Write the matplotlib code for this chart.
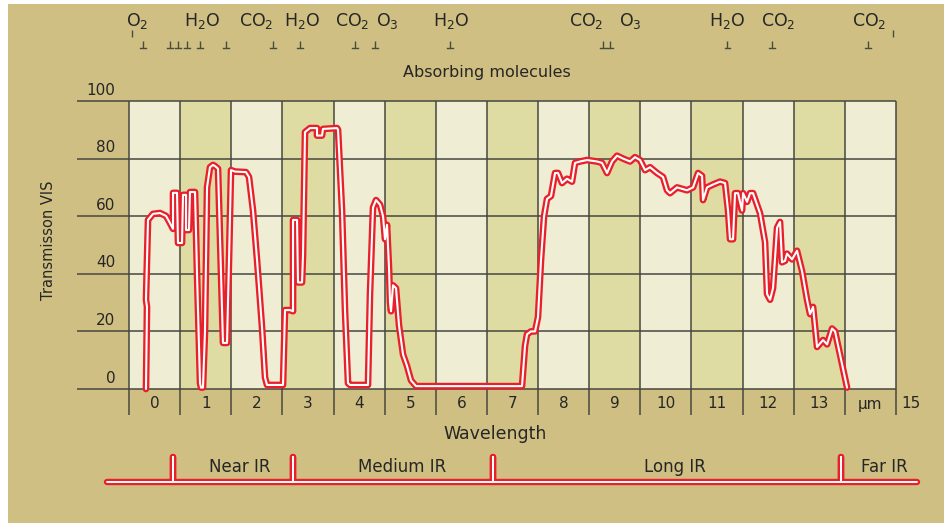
import matplotlib
matplotlib.use("Agg")
import matplotlib.pyplot as plt
from matplotlib.patches import Rectangle
from matplotlib.transforms import blended_transform_factory

# ---------------- data ----------------
wavelength = [0.332, 0.352, 0.332, 0.372, 0.469, 0.606, 0.724, 0.802, 0.861, 0.861,
              0.939, 0.958, 1.037, 1.056, 1.115, 1.115, 1.173, 1.193, 1.291, 1.330,
              1.389, 1.408, 1.447, 1.486, 1.526, 1.584, 1.643, 1.682, 1.741, 1.799,
              1.838, 1.917, 1.956, 1.995, 2.073, 2.288, 2.347, 2.425, 2.503, 2.601,
              2.660, 2.699, 3.012, 3.051, 3.149, 3.208, 3.208, 3.286, 3.305, 3.384,
              3.403, 3.442, 3.540, 3.677, 3.677, 3.775, 3.794, 4.068, 4.088, 4.166,
              4.225, 4.283, 4.322, 4.674, 4.713, 4.772, 4.831, 4.909, 4.968, 5.007,
              5.046, 5.085, 5.105, 5.124, 5.163, 5.222, 5.281, 5.359, 5.437, 5.515,
              5.613, 7.686, 7.745, 7.784, 7.862, 7.941, 7.999, 8.058, 8.117, 8.175,
              8.253, 8.332, 8.390, 8.469, 8.566, 8.664, 8.723, 8.821, 8.958, 9.153,
              9.251, 9.349, 9.447, 9.544, 9.662, 9.799, 9.896, 9.994, 10.092, 10.190,
              10.327, 10.444, 10.522, 10.581, 10.718, 10.913, 11.031, 11.129, 11.207, 11.226,
              11.305, 11.422, 11.559, 11.657, 11.715, 11.754, 11.813, 11.852, 11.911, 11.989,
              12.009, 12.087, 12.146, 12.204, 12.341, 12.439, 12.478, 12.537, 12.595, 12.674,
              12.732, 12.771, 12.830, 12.869, 12.967, 13.064, 13.162, 13.260, 13.319, 13.378,
              13.456, 13.573, 13.652, 13.749, 13.808, 14.043]
transmission = [0, 28.5, 31, 58.7, 60.8, 61.1, 60.1, 57.6, 55.6, 68.1,
                68.1, 50.7, 50.7, 67.4, 67.4, 55.2, 55.2, 68.4, 68.4, 40,
                2, 0.5, 0.5, 20, 70, 77, 77.8, 77.4, 76.5, 40,
                16, 16, 45, 76, 75.5, 75.3, 73.6, 62, 45, 21.5,
                4, 1.4, 1.4, 27.4, 27.4, 27, 58.7, 58.7, 37, 37,
                46.5, 89.2, 90.6, 90.6, 88.0, 88.0, 90.3, 90.6, 90, 62,
                27, 2, 1.4, 1.4, 33, 63, 65.6, 64, 60, 52,
                57, 42, 30, 27, 36, 35, 22, 12, 8, 3,
                1, 1, 15, 19, 20, 20, 25, 45, 60, 66,
                67, 75, 75, 71.5, 73, 72, 78.5, 79, 79.5, 79,
                78.5, 75, 79, 81, 80, 79, 80.5, 79.5, 76, 77,
                75, 73.6, 69, 68, 70, 69, 70, 75, 74, 65.6,
                70, 71, 72, 71.5, 62, 52, 52, 68, 68, 62,
                68, 65, 68, 68, 61, 51, 33, 31, 35, 56,
                58, 44, 44.5, 47, 45, 48, 41, 31, 26, 28.5,
                14.6, 17, 15.5, 21, 20, 0.5]

x_tick_labels = ["0", "1", "2", "3", "4", "5", "6", "7", "8", "9", "10",
                 "11", "12", "13", "\u00b5m", "15"]
y_ticks = [0, 20, 40, 60, 80, 100]

molecule_names = ["O$_2$", "H$_2$O", "CO$_2$", "H$_2$O", "CO$_2$", "O$_3$", "H$_2$O",
                  "CO$_2$", "O$_3$", "H$_2$O", "CO$_2$", "CO$_2$"]
molecule_pos = [0.16, 1.43, 2.48, 3.38, 4.36, 5.05, 6.30, 8.94, 9.80, 11.70, 12.69, 14.47]
absorption_lines = [0.274, 0.802, 0.958, 1.134, 1.389, 1.897, 2.816, 3.344, 4.420,
                    4.811, 6.278, 9.270, 9.407, 11.70, 12.576, 14.453]
scale_marks = [0.059, 14.94]

band_bounds = [0.86, 3.21, 7.12, 13.93]
band_names = ["Near IR", "Medium IR", "Long IR", "Far IR"]
band_label_pos = [2.17, 5.34, 10.68, 14.77]
band_extent = [-0.43, 15.41]

# ---------------- style ----------------
TAN = "#CFBF82"
LIGHT = "#EFEDD3"
DARK = "#DEDCA2"
GRID = "#474740"
RED = "#E8202C"
TXT = "#262626"
FONT = "DejaVu Sans"

W, H = 944, 523
fig = plt.figure(figsize=(W / 100, H / 100), dpi=100)
fig.patch.set_facecolor("white")
fig.patches.append(Rectangle((8 / W, 0), 1, 1 - 4 / H, transform=fig.transFigure,
                             facecolor=TAN, edgecolor="none", zorder=-10))

left, width = 129 / W, 767 / W

# ---------------- main axes ----------------
ax = fig.add_axes([left, (H - 389) / H, width, 288 / H])
ax.set_xlim(0, 15)
ax.set_ylim(0, 100)
ax.axis("off")

for k in range(15):
    ax.axvspan(k, k + 1, facecolor=LIGHT if k % 2 == 0 else DARK, edgecolor="none", zorder=0)

ax.hlines(y_ticks, -1.02, 15, colors=GRID, lw=1.1, clip_on=False, zorder=1)
ax.vlines(range(16), -9, 100, colors=GRID, lw=1.1, clip_on=False, zorder=1)

for v in y_ticks:
    ax.text(-0.27, v + 3.8, str(v), ha="right", va="center", fontsize=11,
            color=TXT, family=FONT, clip_on=False)

tb = blended_transform_factory(ax.transData, ax.transAxes)
for i, lab in enumerate(x_tick_labels):
    xpos = i + 0.5 if i < 15 else 15.3
    ax.text(xpos, -15 / 288, lab, transform=tb, ha="center", va="center",
            fontsize=11, color=TXT, family=FONT, clip_on=False)

ax.text(7.16, -45 / 288, "Wavelength", transform=tb, ha="center", va="center",
        fontsize=12.5, color=TXT, family=FONT)
ax.text(-1.584, 51.7, "Transmisson VIS", rotation=90, ha="center", va="center",
        fontsize=10.5, color=TXT, family=FONT)

ax.plot(wavelength, transmission, color=RED, lw=4.8, solid_joinstyle="round",
        solid_capstyle="round", clip_on=False, zorder=3)
ax.plot(wavelength, transmission, color="white", lw=1.5, solid_joinstyle="round",
        solid_capstyle="round", clip_on=False, zorder=4)

# ---------------- top axes: absorbing molecules ----------------
axt = fig.add_axes([left, 1 - 84 / H, width, 84 / H])
axt.set_xlim(0, 15)
axt.set_ylim(84, 0)
axt.axis("off")
for name, p in zip(molecule_names, molecule_pos):
    axt.text(p, 21, name, ha="center", va="center", fontsize=12.5, color=TXT, family=FONT)
axt.vlines(absorption_lines, 41, 48, colors="#4a4a44", lw=1.0)
for p in absorption_lines:
    axt.plot([p - 0.05, p + 0.05], [48, 48], color="#4a4a44", lw=1.0)
axt.vlines(scale_marks, 30, 37, colors="#4a4a44", lw=1.0)
axt.text(7.0, 72, "Absorbing molecules", ha="center", va="center", fontsize=11.5,
         color=TXT, family=FONT)

# ---------------- bottom axes: IR bands ----------------
axb = fig.add_axes([left, 0, width, 83 / H])
axb.set_xlim(0, 15)
axb.set_ylim(523, 440)
axb.axis("off")
bx, by = [band_extent[0]], [482]
for b in band_bounds:
    bx += [b, b, b]
    by += [482, 457, 482]
bx.append(band_extent[1])
by.append(482)
axb.plot(bx, by, color=RED, lw=4.6, solid_joinstyle="round", solid_capstyle="round",
         clip_on=False)
axb.plot(bx, by, color="white", lw=1.4, solid_joinstyle="round", solid_capstyle="round",
         clip_on=False)
for name, p in zip(band_names, band_label_pos):
    axb.text(p, 467, name, ha="center", va="center", fontsize=12, color=TXT, family=FONT)

fig.savefig("out.png", dpi=100, facecolor=fig.get_facecolor())
